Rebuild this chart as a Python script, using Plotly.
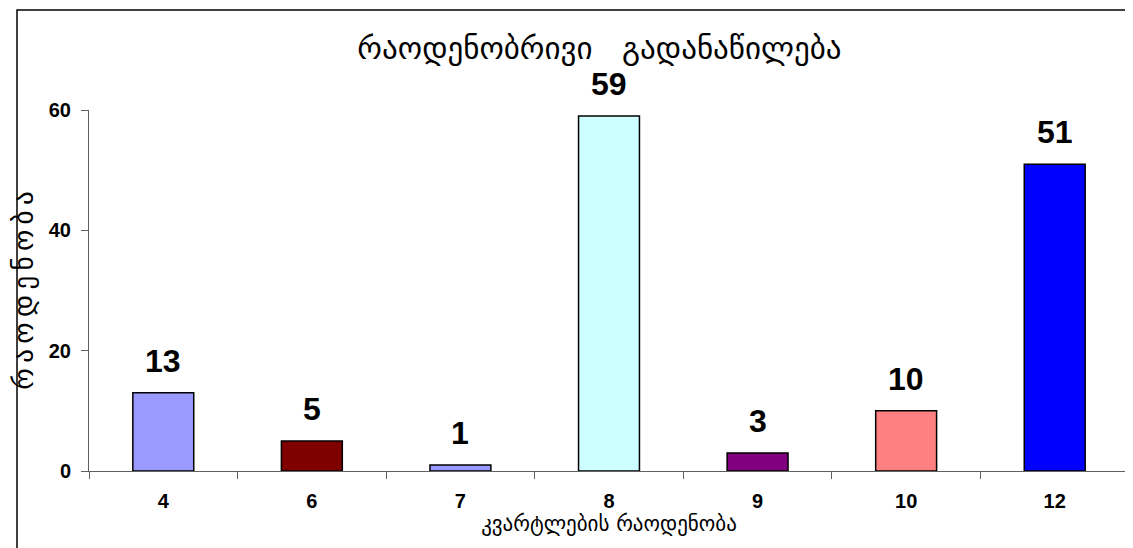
import plotly.graph_objects as go

# quarters count and number of objects
categories = ["4", "6", "7", "8", "9", "10", "12"]
values = [13, 5, 1, 59, 3, 10, 51]
bar_colors = ["#9999FF", "#800000", "#9999FF", "#CCFFFF", "#800080", "#FF8080", "#0000FF"]
y_ticks = [0, 20, 40, 60]

title_text = "რაოდენობრივი\u00a0\u00a0 გადანაწილება"
x_title = "კვარტლების\u00a0რაოდენობა"
# leading nbsp pushes the rotated title a little upward
y_title = "\u00a0\u00a0\u00a0" + "\u2009".join("რაოდენობა")

NARROW = "Liberation Sans Narrow, Arial Narrow, Liberation Sans"

fig = go.Figure()

fig.add_trace(
    go.Bar(
        x=categories,
        y=values,
        marker=dict(color=bar_colors, line=dict(color="black", width=1.5)),
        width=0.41,
        hoverinfo="x+y",
    )
)

# value labels sit a bit higher above the bars than plotly's own outside text
# (category axis -> position annotations by category index)
for i, val in enumerate(values):
    fig.add_annotation(
        x=i,
        y=val,
        text=str(val),
        showarrow=False,
        yanchor="bottom",
        yshift=12,
        font=dict(family=NARROW, size=32, color="black", weight="bold"),
    )

fig.update_layout(
    width=1133,
    height=548,
    margin=dict(l=81, r=12, t=102, b=85),
    paper_bgcolor="white",
    plot_bgcolor="white",
    showlegend=False,
    title=dict(
        text=title_text,
        x=0.522,
        xanchor="center",
        y=0.927,
        yanchor="middle",
        font=dict(family="DejaVu Sans", size=31, color="black"),
    ),
    xaxis=dict(
        type="category",
        range=[-0.5, len(categories) - 0.5],
        showgrid=False,
        showline=True,
        linecolor="#606060",
        linewidth=1,
        ticks="outside",
        tickson="boundaries",
        ticklen=7,
        tickcolor="#606060",
        tickfont=dict(family=NARROW, size=20, color="black", weight="bold"),
        ticklabelstandoff=12,
        title=dict(
            text=x_title,
            font=dict(family="DejaVu Sans", size=21, color="black"),
            standoff=2,
        ),
    ),
    yaxis=dict(
        range=[0, 60],
        tickvals=y_ticks,
        showgrid=False,
        zeroline=False,
        showline=True,
        linecolor="#606060",
        linewidth=1,
        ticks="outside",
        ticklen=7,
        tickcolor="#606060",
        tickfont=dict(family=NARROW, size=20, color="black", weight="bold"),
        ticklabelstandoff=6,
        title=dict(
            text=y_title,
            font=dict(family="DejaVu Sans", size=27, color="black"),
            standoff=10,
        ),
    ),
)

# outer chart frame, cut off at the right and bottom edges
fig.add_shape(
    type="rect",
    xref="paper",
    yref="paper",
    x0=-72 / 1040,
    x1=1.05,
    y0=-0.3,
    y1=1 + 100 / 361,
    line=dict(color="black", width=1.5),
    fillcolor="rgba(0,0,0,0)",
    layer="above",
)

fig.write_html("out.html")
